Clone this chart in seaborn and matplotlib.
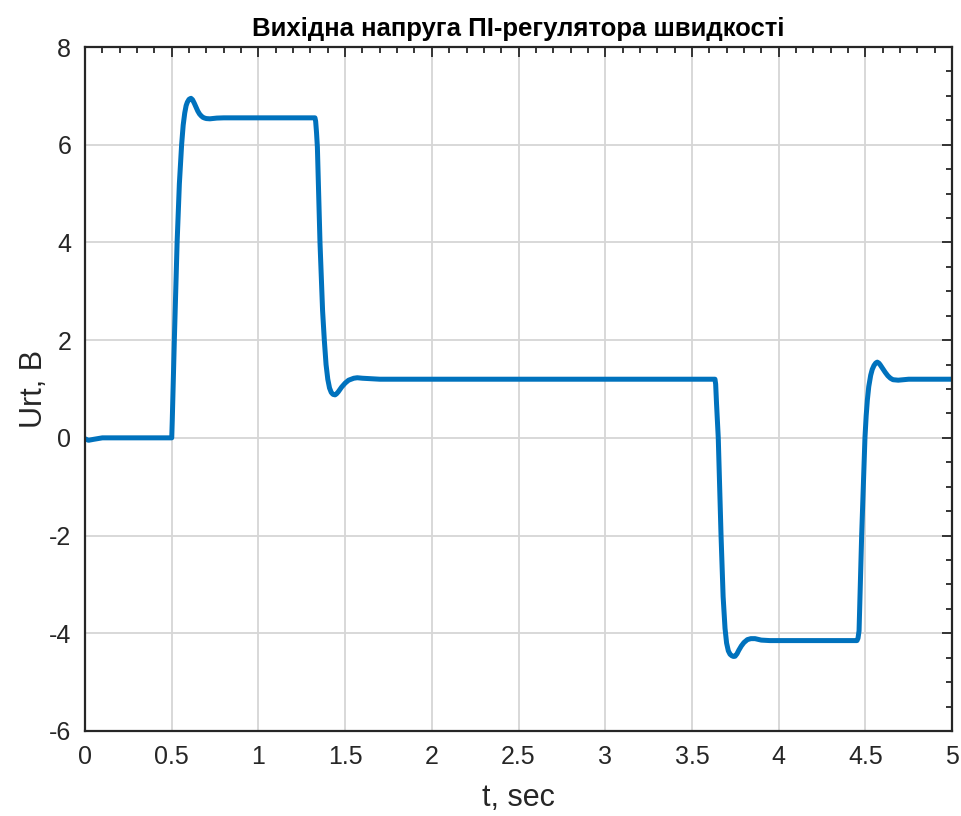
import matplotlib
matplotlib.use('Agg')
import matplotlib.pyplot as plt
import numpy as np
import pandas as pd
import seaborn as sns
from matplotlib.ticker import MultipleLocator

# time (s) and PI speed-controller output voltage (V)
t_sec = [0, 0.02, 0.05, 0.1, 0.5, 0.503, 0.515, 0.531, 0.544, 0.557, 0.566, 0.575, 0.583,
         0.59, 0.6, 0.611, 0.62, 0.63, 0.64, 0.65, 0.66, 0.67, 0.68, 0.69, 0.7, 0.72, 0.76,
         0.8, 1.326, 1.33, 1.335, 1.34, 1.355, 1.37, 1.38, 1.39, 1.4, 1.41, 1.42, 1.43,
         1.442, 1.45, 1.46, 1.47, 1.48, 1.5, 1.52, 1.55, 1.57, 1.6, 1.65, 1.7,
         3.633, 3.637, 3.642, 3.652, 3.668, 3.68, 3.691, 3.7, 3.71, 3.72, 3.73, 3.74, 3.749,
         3.76, 3.77, 3.785, 3.8, 3.82, 3.84, 3.864, 3.9, 3.95,
         4.452, 4.458, 4.464, 4.479, 4.498, 4.505, 4.512, 4.52, 4.531, 4.54, 4.55, 4.56,
         4.569, 4.578, 4.585, 4.6, 4.615, 4.63, 4.645, 4.66, 4.69, 4.75, 5.0]
u_rt = [-0.02, -0.05, -0.03, 0.0, 0.0, 0.35, 2.0, 4.0, 5.2, 6.0, 6.4, 6.65, 6.8,
        6.87, 6.93, 6.95, 6.92, 6.85, 6.77, 6.69, 6.63, 6.59, 6.56, 6.545, 6.535, 6.53, 6.545,
        6.55, 6.55, 6.48, 6.25, 5.95, 4.0, 2.6, 2.0, 1.5, 1.2, 1.02, 0.93, 0.89,
        0.88, 0.9, 0.94, 0.99, 1.04, 1.12, 1.18, 1.22, 1.23, 1.22, 1.21, 1.2,
        1.2, 1.1, 0.7, 0.0, -2.0, -3.25, -3.9, -4.2, -4.36, -4.43, -4.46, -4.475, -4.47,
        -4.42, -4.35, -4.26, -4.19, -4.13, -4.11, -4.11, -4.14, -4.15,
        -4.15, -4.1, -3.95, -2.0, 0.0, 0.45, 0.78, 1.05, 1.28, 1.4, 1.48, 1.53,
        1.55, 1.53, 1.5, 1.42, 1.34, 1.27, 1.22, 1.19, 1.18, 1.2, 1.2]

df = pd.DataFrame({'t': t_sec, 'u': u_rt})

sns.set_style('white')
plt.rcParams['font.family'] = ['Liberation Sans', 'DejaVu Sans']

fig = plt.figure(figsize=(9.62, 8.16), dpi=100)
ax = fig.add_axes([0.0884, 0.1042, 0.9012, 0.8382])

sns.lineplot(x='t', y='u', data=df, ax=ax, color='#0072BD', linewidth=3.6, sort=False)

ax.set_xlim(0, 5)
ax.set_ylim(-6, 8)
ax.xaxis.set_major_locator(MultipleLocator(0.5))
ax.xaxis.set_minor_locator(MultipleLocator(0.1))
ax.yaxis.set_major_locator(MultipleLocator(2))
ax.yaxis.set_minor_locator(MultipleLocator(0.5))
ax.set_xticklabels([f'{v:g}' for v in ax.get_xticks()])
ax.set_yticklabels([f'{v:g}' for v in ax.get_yticks()])

ax.grid(True, which='major', color='#d6d6d6', linewidth=1.3)
ax.set_axisbelow(True)
for sp in ax.spines.values():
    sp.set_visible(True)
    sp.set_color('#262626')
    sp.set_linewidth(1.6)
ax.tick_params(which='both', direction='in', top=True, right=True, color='#262626',
               labelsize=18, labelcolor='#262626')
ax.tick_params(which='major', length=7, width=1.3, pad=10)
ax.tick_params(which='minor', length=4, width=1.3)

ax.set_xlabel('t, sec', fontsize=22, color='#262626', labelpad=10)
ax.set_ylabel('Urt, B', fontsize=22, color='#262626', labelpad=0)
ax.set_title('Вихідна напруга ПІ-регулятора швидкості', fontsize=18.5, fontweight='bold',
             color='black', pad=8)

fig.savefig('out.png', dpi=100)
